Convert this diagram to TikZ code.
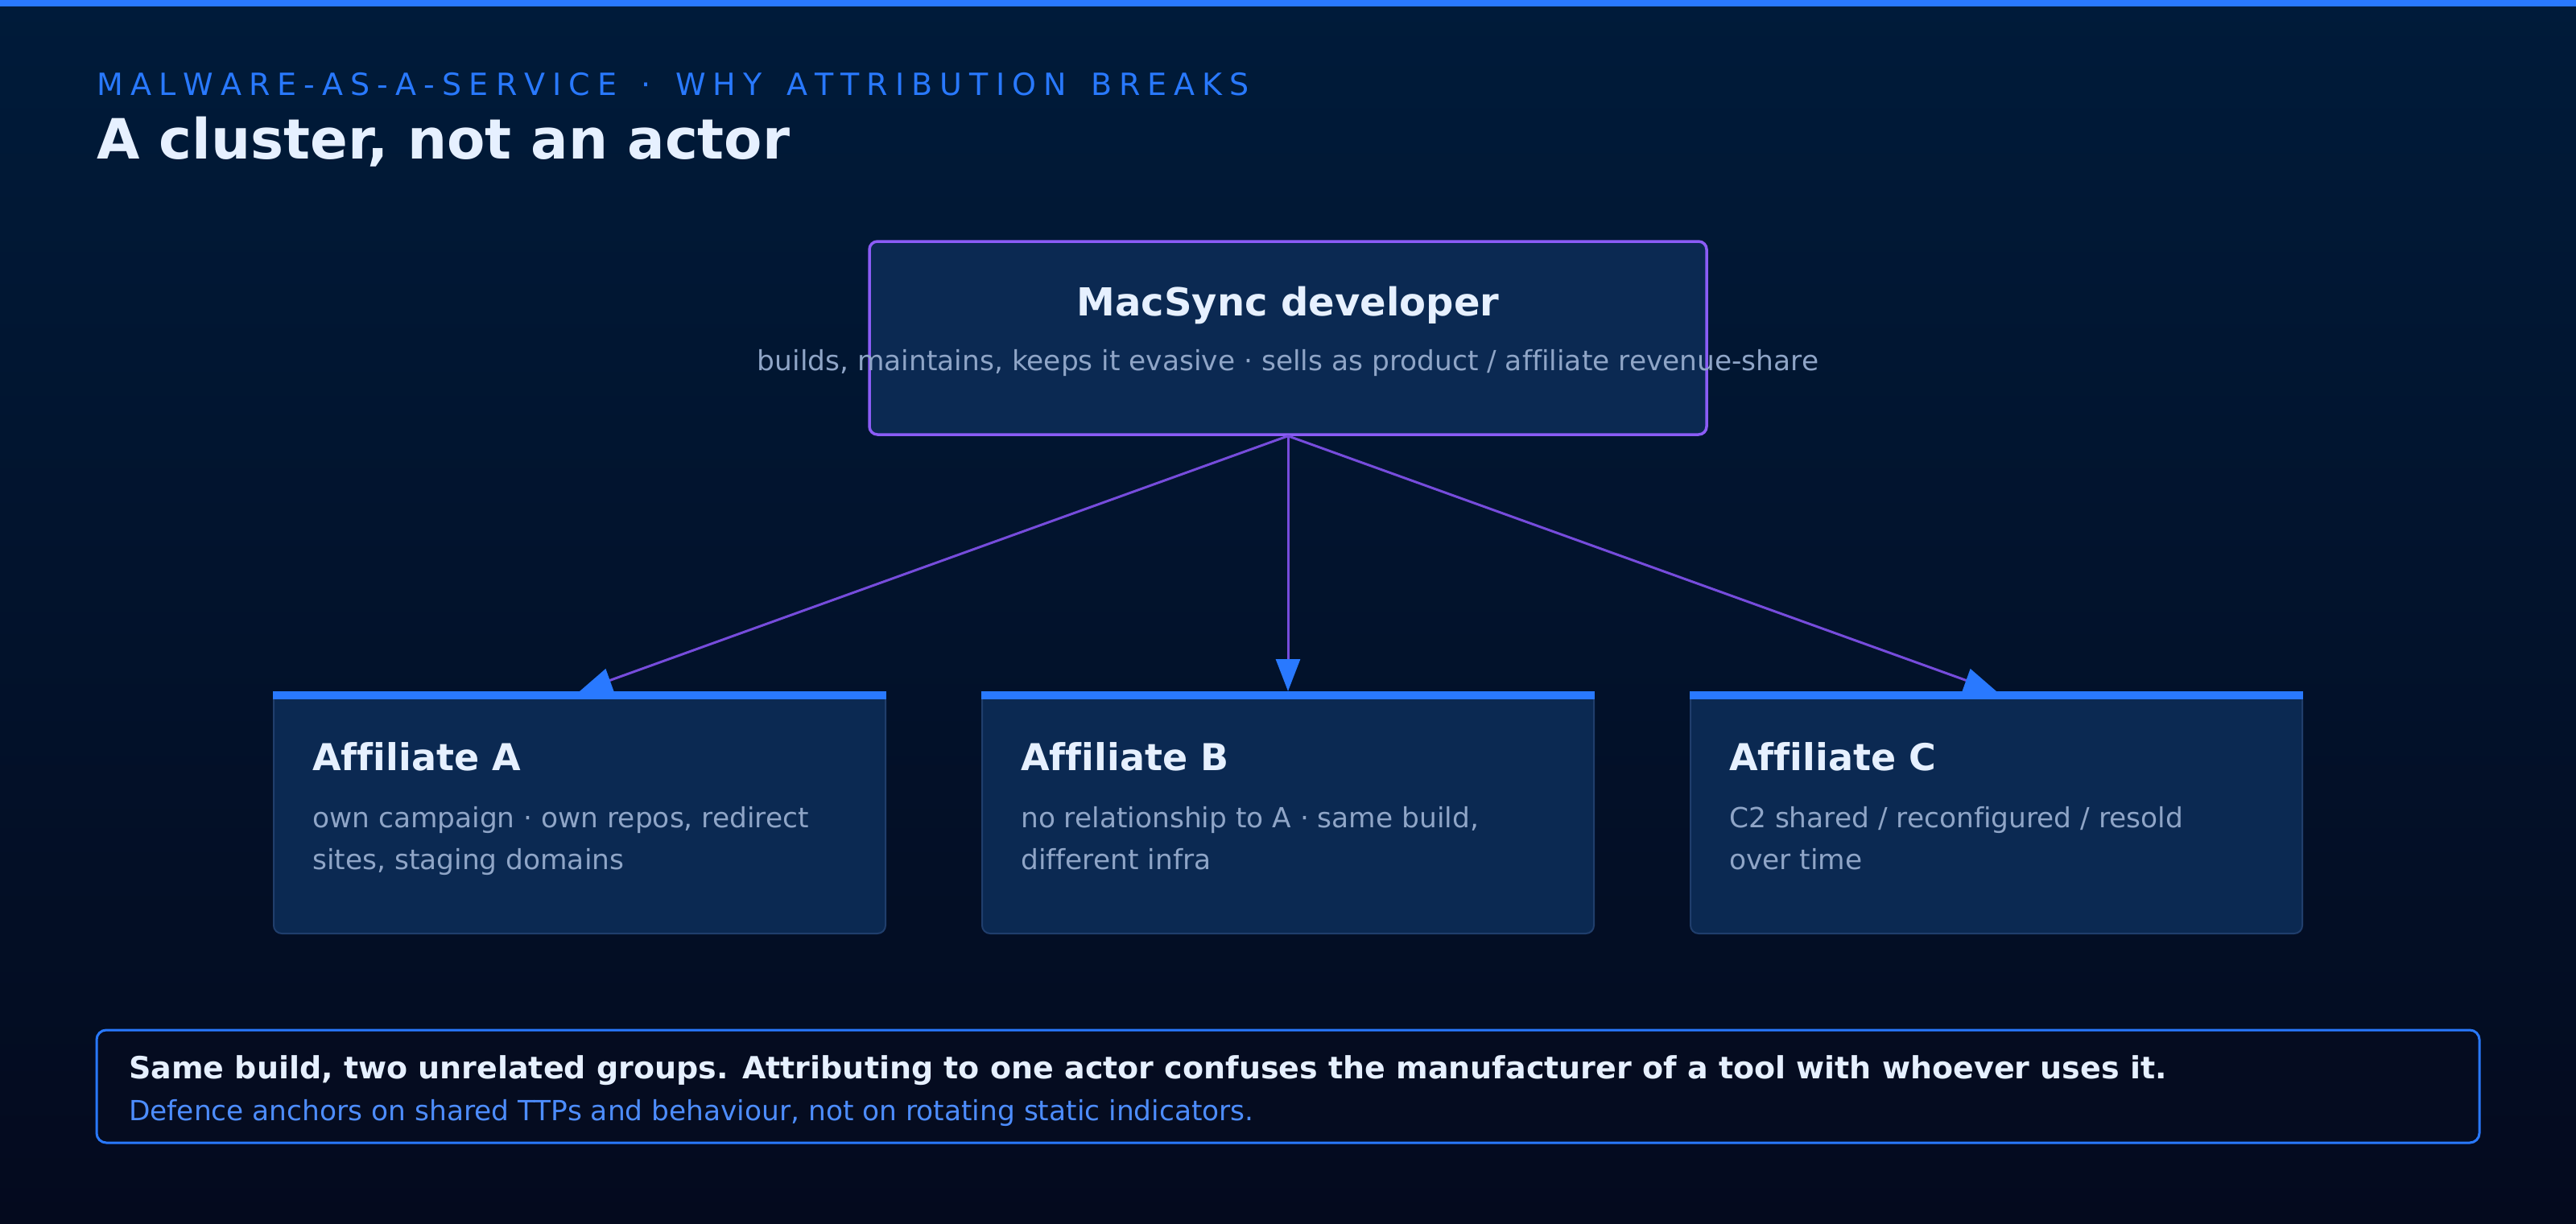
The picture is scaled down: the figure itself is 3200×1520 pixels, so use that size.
\documentclass[tikz,border=0pt]{standalone}
\usepackage{fontspec}
\setmainfont{DejaVu Sans}[Ligatures=NoCommon]
\usetikzlibrary{arrows.meta}
\definecolor{bgtop}{RGB}{0,27,58}
\definecolor{bgbot}{RGB}{4,10,30}
\definecolor{accent}{RGB}{41,121,255}
\definecolor{purp}{RGB}{139,92,246}
\definecolor{purpline}{RGB}{118,76,220}
\definecolor{boxfill}{RGB}{11,41,82}
\definecolor{boxedge}{RGB}{32,62,108}
\definecolor{titlecol}{RGB}{230,240,255}
\definecolor{desccol}{RGB}{143,165,199}
\definecolor{footfill}{RGB}{5,12,32}
\definecolor{footblue}{RGB}{77,141,255}
\newcommand\setfs[1]{\fontsize{#1pt}{#1pt}\selectfont}
\newdimen\lsgap \lsgap=9.1pt
\def\spacedtxt#1{\spacedaux#1\relax}
\def\spacedaux#1{\ifx#1\relax\else#1\kern\lsgap\expandafter\spacedaux\fi}
\begin{document}
\begin{tikzpicture}[x=1pt,y=-1pt,
  txt/.style={inner sep=0pt, anchor=base west},
  devbox/.style={draw=purp, line width=3.5pt, fill=boxfill, rounded corners=10pt,
    minimum width=1040pt, minimum height=240pt, inner sep=0pt},
  affbox/.style={draw=boxedge, line width=2pt, fill=boxfill, rounded corners=10pt,
    minimum width=760pt, minimum height=300pt, inner sep=0pt},
  footbox/.style={draw=accent, line width=3pt, fill=footfill, rounded corners=12pt,
    minimum width=2960pt, minimum height=140pt, inner sep=0pt},
  conn/.style={draw=purpline, line width=3pt,
    -{Triangle[length=40pt,width=30pt,color=accent,fill=accent]}},
  kicker/.style={txt, text=accent, font=\setfs{38}},
  headline/.style={txt, text=titlecol, font=\bfseries\setfs{69}},
  boxtitle/.style={txt, text=titlecol, font=\bfseries\setfs{46}},
  desc/.style={txt, text=desccol, font=\setfs{34.4}},
]
\useasboundingbox (0,0) rectangle (3200,1520);
\shade[top color=bgtop, bottom color=bgbot] (0,0) rectangle (3200,1520);
\fill[accent] (0,0) rectangle (3200,8);

\node[kicker] (kick) at (120,118) {\spacedtxt{MALWARE-AS-A-SERVICE~·~WHY~ATTRIBUTION~BREAKS}};
\node[headline] (head) at (120,197) {A cluster, not an actor};

\node[devbox] (dev) at (1600,420) {};
\node[txt, anchor=base, text=titlecol, font=\bfseries\setfs{48}] (devt) at (1600,392) {MacSync developer};
\node[txt, anchor=base, text=desccol, font=\setfs{34.4}] (devd) at (1600,460) {builds, maintains, keeps it evasive · sells as product / affiliate revenue-share};

\node[affbox] (affA) at (720,1010) {};
\node[affbox] (affB) at (1600,1010) {};
\node[affbox] (affC) at (2480,1010) {};
\foreach \n in {affA,affB,affC}{
  \fill[accent] (\n.north west) rectangle ([yshift=-10pt]\n.north east);
}

\node[boxtitle] (tA) at (388,957) {Affiliate A};
\node[desc] (dA1) at (388,1028) {own campaign · own repos, redirect};
\node[desc] (dA2) at (388,1080) {sites, staging domains};

\node[boxtitle] (tB) at (1268,957) {Affiliate B};
\node[desc] (dB1) at (1268,1028) {no relationship to A · same build,};
\node[desc] (dB2) at (1268,1080) {different infra};

\node[boxtitle] (tC) at (2148,957) {Affiliate C};
\node[desc] (dC1) at (2148,1028) {C2 shared / reconfigured / resold};
\node[desc] (dC2) at (2148,1080) {over time};

\draw[conn] (dev.south) -- (affA.north);
\draw[conn] (dev.south) -- (affB.north);
\draw[conn] (dev.south) -- (affC.north);

\node[footbox] (foot) at (1600,1350) {};
\node[txt, text=titlecol, font=\bfseries\setfs{38}] (f1) at (160,1340) {Same build, two unrelated groups. Attributing to one actor confuses the manufacturer of a tool with whoever uses it.};
\node[txt, text=footblue, font=\setfs{34.4}] (f2) at (160,1392) {Defence anchors on shared TTPs and behaviour, not on rotating static indicators.};
\end{tikzpicture}
\end{document}
